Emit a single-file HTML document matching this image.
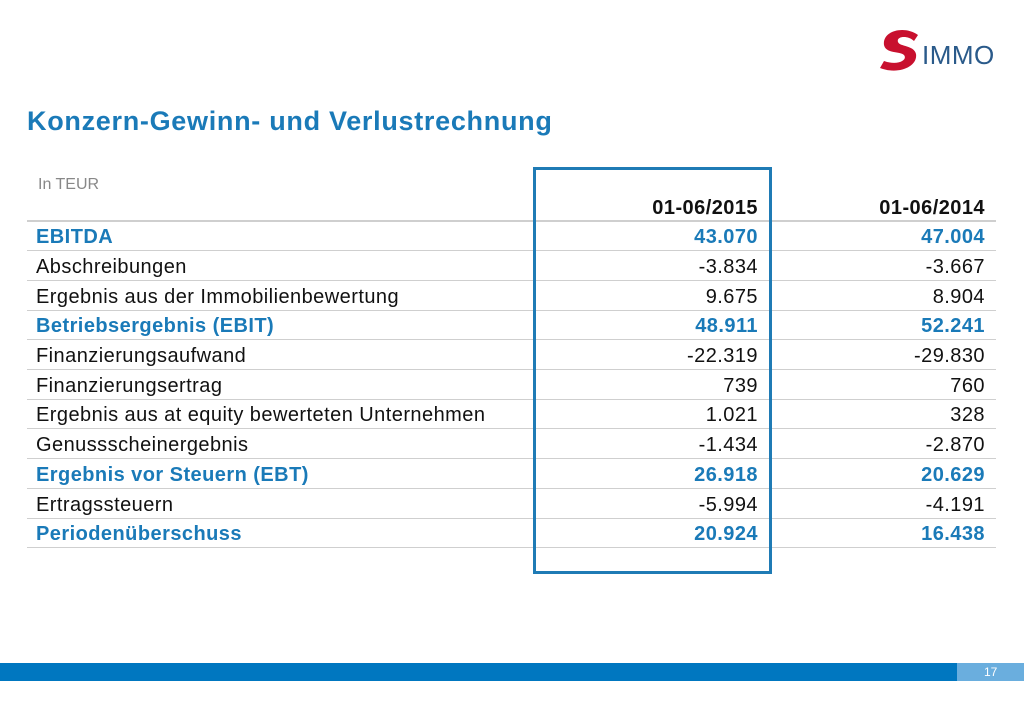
<!DOCTYPE html>
<html><head><meta charset="utf-8"><style>
body{margin:0;width:1024px;height:709px;background:#fff;position:relative;overflow:hidden;font-family:"Liberation Sans",Arial,sans-serif}
.t{position:absolute;white-space:nowrap}
.row{position:absolute;left:27px;width:969px;height:29px;border-bottom:1.5px solid #cfcfcf;font-size:20px;letter-spacing:0.45px;color:#111}
.row span{position:absolute;top:5px}
.l{left:9px}.a{right:238px}.b{right:11px}
.bl{color:#1a7ab8;font-weight:bold}
</style></head><body>
<div class="t" style="left:27px;top:106px;font-size:27px;letter-spacing:0.7px;font-weight:bold;color:#1a7ab8">Konzern-Gewinn- und Verlustrechnung</div>
<svg style="position:absolute;left:878px;top:27px" width="50" height="46">
<path d="M40 8 C26 -2 4 4 6 18 C8 27 22 24 26 28 C30 33 20 39 6 34 L2 41 C20 48 40 40 38 27 C36 18 22 20 20 15 C18 9 30 8 36 14 Z" fill="#c8102e"/>
</svg>
<div class="t" style="left:922px;top:40px;font-size:26px;color:#2a5a8a;letter-spacing:0.5px">IMMO</div>
<div class="t" style="left:38px;top:176px;font-size:16px;color:#888">In TEUR</div>
<div class="row" style="top:191px;border-bottom-width:2px"><span class="a" style="font-weight:bold;top:6px">01-06/2015</span><span class="b" style="font-weight:bold;top:6px">01-06/2014</span></div>
<div class="row bl" style="top:221px"><span class="l">EBITDA</span><span class="a">43.070</span><span class="b">47.004</span></div>
<div class="row" style="top:251px"><span class="l">Abschreibungen</span><span class="a">-3.834</span><span class="b">-3.667</span></div>
<div class="row" style="top:281px"><span class="l">Ergebnis aus der Immobilienbewertung</span><span class="a">9.675</span><span class="b">8.904</span></div>
<div class="row bl" style="top:310px"><span class="l">Betriebsergebnis (EBIT)</span><span class="a">48.911</span><span class="b">52.241</span></div>
<div class="row" style="top:340px"><span class="l">Finanzierungsaufwand</span><span class="a">-22.319</span><span class="b">-29.830</span></div>
<div class="row" style="top:370px"><span class="l">Finanzierungsertrag</span><span class="a">739</span><span class="b">760</span></div>
<div class="row" style="top:399px"><span class="l">Ergebnis aus at equity bewerteten Unternehmen</span><span class="a">1.021</span><span class="b">328</span></div>
<div class="row" style="top:429px"><span class="l">Genussscheinergebnis</span><span class="a">-1.434</span><span class="b">-2.870</span></div>
<div class="row bl" style="top:459px"><span class="l">Ergebnis vor Steuern (EBT)</span><span class="a">26.918</span><span class="b">20.629</span></div>
<div class="row" style="top:489px"><span class="l">Ertragssteuern</span><span class="a">-5.994</span><span class="b">-4.191</span></div>
<div class="row bl" style="top:518px"><span class="l">Periodenüberschuss</span><span class="a">20.924</span><span class="b">16.438</span></div>
<div style="position:absolute;left:533px;top:167px;width:233px;height:401px;border:3px solid #1f7bb5"></div>
<div style="position:absolute;left:0;top:663px;width:957px;height:18px;background:#0077c0"></div>
<div style="position:absolute;left:957px;top:663px;width:67px;height:18px;background:#6aaede"></div>
<div class="t" style="left:984px;top:665px;font-size:12px;color:#fff">17</div>
</body></html>
